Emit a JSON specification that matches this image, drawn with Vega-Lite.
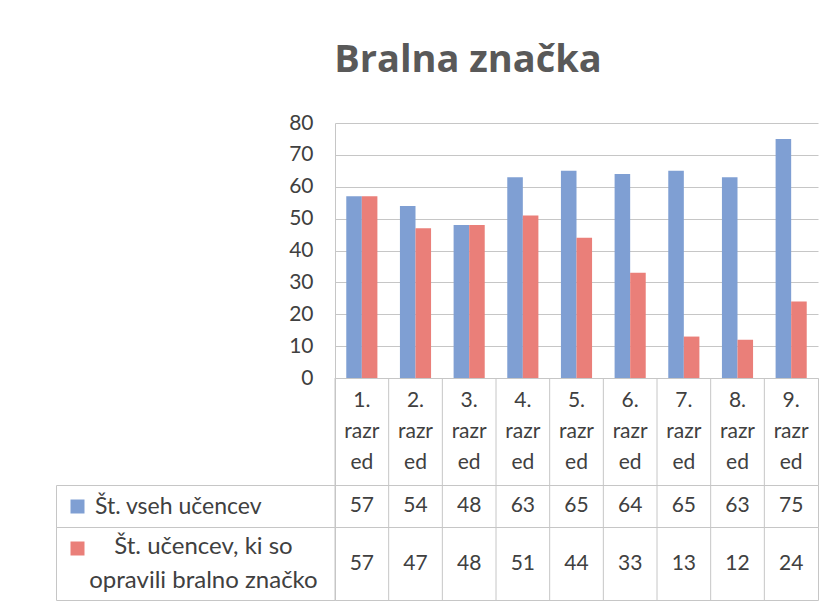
{
  "$schema": "https://vega.github.io/schema/vega-lite/v6.json",
  "background": "white",
  "padding": {"left": 55, "top": 42, "right": 20, "bottom": 5},
  "title": {"text": "Bralna značka", "font": "Open Sans", "fontSize": 38, "fontWeight": "bold", "color": "#595959", "anchor": "middle", "dx": 31, "offset": 32},
  "config": {
    "font": "Lato",
    "view": {"stroke": "#c6c6c6", "strokeWidth": 1},
    "text": {"font": "Lato"}
  },
  "datasets": {
    "grades": [
      {"razred": "1. razred", "serija": "Št. vseh učencev", "stevilo": 57},
      {"razred": "1. razred", "serija": "Št. učencev, ki so opravili bralno značko", "stevilo": 57},
      {"razred": "2. razred", "serija": "Št. vseh učencev", "stevilo": 54},
      {"razred": "2. razred", "serija": "Št. učencev, ki so opravili bralno značko", "stevilo": 47},
      {"razred": "3. razred", "serija": "Št. vseh učencev", "stevilo": 48},
      {"razred": "3. razred", "serija": "Št. učencev, ki so opravili bralno značko", "stevilo": 48},
      {"razred": "4. razred", "serija": "Št. vseh učencev", "stevilo": 63},
      {"razred": "4. razred", "serija": "Št. učencev, ki so opravili bralno značko", "stevilo": 51},
      {"razred": "5. razred", "serija": "Št. vseh učencev", "stevilo": 65},
      {"razred": "5. razred", "serija": "Št. učencev, ki so opravili bralno značko", "stevilo": 44},
      {"razred": "6. razred", "serija": "Št. vseh učencev", "stevilo": 64},
      {"razred": "6. razred", "serija": "Št. učencev, ki so opravili bralno značko", "stevilo": 33},
      {"razred": "7. razred", "serija": "Št. vseh učencev", "stevilo": 65},
      {"razred": "7. razred", "serija": "Št. učencev, ki so opravili bralno značko", "stevilo": 13},
      {"razred": "8. razred", "serija": "Št. vseh učencev", "stevilo": 63},
      {"razred": "8. razred", "serija": "Št. učencev, ki so opravili bralno značko", "stevilo": 12},
      {"razred": "9. razred", "serija": "Št. vseh učencev", "stevilo": 75},
      {"razred": "9. razred", "serija": "Št. učencev, ki so opravili bralno značko", "stevilo": 24}
    ],
    "razredi": [
      {"razred": "1. razred", "oznaka": "1.\nrazr\ned"},
      {"razred": "2. razred", "oznaka": "2.\nrazr\ned"},
      {"razred": "3. razred", "oznaka": "3.\nrazr\ned"},
      {"razred": "4. razred", "oznaka": "4.\nrazr\ned"},
      {"razred": "5. razred", "oznaka": "5.\nrazr\ned"},
      {"razred": "6. razred", "oznaka": "6.\nrazr\ned"},
      {"razred": "7. razred", "oznaka": "7.\nrazr\ned"},
      {"razred": "8. razred", "oznaka": "8.\nrazr\ned"},
      {"razred": "9. razred", "oznaka": "9.\nrazr\ned"}
    ]
  },
  "columns": 2,
  "spacing": 0,
  "bounds": "flush",
  "align": "each",
  "concat": [
    {
      "width": 279, "height": 255,
      "data": {"values": [{}]},
      "mark": {"type": "text"},
      "encoding": {"text": {"value": ""}},
      "view": {"stroke": null}
    },
    {
      "width": 483, "height": 255,
      "data": {"name": "grades"},
      "mark": {"type": "bar"},
      "encoding": {
        "x": {"field": "razred", "type": "nominal", "sort": null, "axis": null, "scale": {"paddingInner": 0.42, "paddingOuter": 0.21}},
        "xOffset": {"field": "serija", "type": "nominal", "sort": null, "scale": {"paddingInner": 0, "paddingOuter": 0}},
        "y": {"field": "stevilo", "type": "quantitative", "scale": {"domain": [0, 80], "nice": false},
          "axis": {"title": null, "values": [0, 10, 20, 30, 40, 50, 60, 70, 80], "domain": true, "domainColor": "#c6c6c6", "ticks": false, "labelPadding": 22, "labelFontSize": 21, "labelColor": "#404040", "labelFont": "Lato", "gridColor": "#c6c6c6"}},
        "color": {"field": "serija", "type": "nominal", "sort": null, "scale": {"domain": ["Št. vseh učencev", "Št. učencev, ki so opravili bralno značko"], "range": ["#7f9fd3", "#ea7f79"]}, "legend": null}
      },
      "view": {"stroke": null}
    },
    {
      "width": 279, "height": 107,
      "data": {"values": [{}]},
      "mark": {"type": "text"},
      "encoding": {"text": {"value": ""}},
      "view": {"stroke": null}
    },
    {
      "width": 483, "height": 107,
      "data": {"name": "razredi"},
      "layer": [
        {
          "mark": {"type": "text", "fontSize": 21, "color": "#404040", "lineBreak": "\n", "lineHeight": 31, "baseline": "middle", "dy": -31},
          "encoding": {
            "x": {"field": "razred", "type": "nominal", "sort": null, "axis": null, "scale": {"type": "band", "paddingInner": 0, "paddingOuter": 0}},
            "text": {"field": "oznaka"}
          }
        },
        {
          "mark": {"type": "rule", "color": "#c6c6c6"},
          "encoding": {"x": {"field": "razred", "type": "nominal", "sort": null, "bandPosition": 0}}
        }
      ]
    },
    {
      "width": 279, "height": 42,
      "data": {"values": [{"serija": "Št. vseh učencev"}]},
      "mark": {"type": "text"},
      "encoding": {
        "x": {"field": "serija", "type": "nominal", "axis": null, "scale": {"type": "band", "paddingInner": 0, "paddingOuter": 0}},
        "text": {"value": ""},
        "color": {"field": "serija", "type": "nominal", "scale": {"range": ["#7f9fd3"]},
          "legend": {"title": null, "orient": "top-left", "offset": 10, "padding": 0, "symbolType": "square", "symbolSize": 196, "symbolStrokeWidth": 0, "labelFontSize": 23, "labelColor": "#404040", "labelFont": "Lato", "labelOffset": 6, "labelLimit": 300}}
      }
    },
    {
      "width": 483, "height": 42,
      "data": {"name": "grades"},
      "transform": [{"filter": "datum.serija == 'Št. vseh učencev'"}],
      "layer": [
        {
          "mark": {"type": "text", "fontSize": 21, "color": "#404040", "baseline": "middle"},
          "encoding": {
            "x": {"field": "razred", "type": "nominal", "sort": null, "axis": null, "scale": {"type": "band", "paddingInner": 0, "paddingOuter": 0}},
            "text": {"field": "stevilo", "type": "quantitative"}
          }
        },
        {
          "mark": {"type": "rule", "color": "#c6c6c6"},
          "encoding": {"x": {"field": "razred", "type": "nominal", "sort": null, "bandPosition": 0}}
        }
      ]
    },
    {
      "width": 279, "height": 73,
      "data": {"values": [{"serija": "Št. učencev, ki so opravili bralno značko"}]},
      "layer": [
        {
          "mark": {"type": "text"},
          "encoding": {
            "x": {"field": "serija", "type": "nominal", "axis": null, "scale": {"type": "band", "paddingInner": 0, "paddingOuter": 0}},
            "text": {"value": ""},
            "color": {"field": "serija", "type": "nominal", "scale": {"range": ["#ea7f79"]},
              "legend": {"title": null, "orient": "top-left", "offset": 11, "padding": 0, "symbolType": "square", "symbolSize": 196, "symbolStrokeWidth": 0, "labelFontSize": 21, "labelExpr": "''"}}
          }
        },
        {
          "mark": {"type": "text", "fontSize": 24, "color": "#404040", "baseline": "middle", "lineHeight": 34, "dy": -17, "dx": 8},
          "encoding": {"text": {"value": ["Št. učencev, ki so", "opravili bralno značko"]}}
        }
      ]
    },
    {
      "width": 483, "height": 73,
      "data": {"name": "grades"},
      "transform": [{"filter": "datum.serija != 'Št. vseh učencev'"}],
      "layer": [
        {
          "mark": {"type": "text", "fontSize": 21, "color": "#404040", "baseline": "middle"},
          "encoding": {
            "x": {"field": "razred", "type": "nominal", "sort": null, "axis": null, "scale": {"type": "band", "paddingInner": 0, "paddingOuter": 0}},
            "text": {"field": "stevilo", "type": "quantitative"}
          }
        },
        {
          "mark": {"type": "rule", "color": "#c6c6c6"},
          "encoding": {"x": {"field": "razred", "type": "nominal", "sort": null, "bandPosition": 0}}
        }
      ]
    }
  ],
  "resolve": {
    "scale": {"x": "independent", "y": "independent", "color": "independent"},
    "legend": {"color": "independent"}
  }
}
